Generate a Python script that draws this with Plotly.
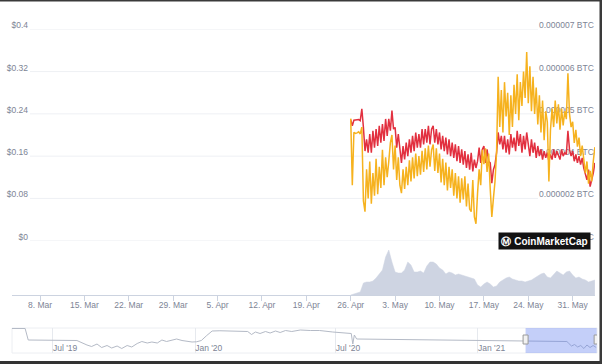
import pandas as pd
import plotly.graph_objects as go

W, H = 602, 364

# ---------------- data ----------------
price_start = "2021-04-26 00:00"
price_step_hours = 6
usd_price = [
    0.231, 0.105, 0.205, 0.203,
    0.204, 0.206, 0.202, 0.215,
    0.075, 0.055, 0.135, 0.080,
    0.150, 0.070, 0.128, 0.085,
    0.155, 0.088, 0.140, 0.100,
    0.172, 0.105, 0.158, 0.120,
    0.150, 0.185, 0.200, 0.135,
    0.180, 0.115, 0.158, 0.105,
    0.090, 0.135, 0.098, 0.140,
    0.105, 0.152, 0.112, 0.158,
    0.118, 0.165, 0.122, 0.160,
    0.125, 0.170, 0.130, 0.175,
    0.135, 0.180, 0.140, 0.172,
    0.182, 0.132, 0.175, 0.128,
    0.165, 0.110, 0.155, 0.105,
    0.148, 0.095, 0.140, 0.100,
    0.135, 0.085, 0.128, 0.080,
    0.122, 0.072, 0.118, 0.078,
    0.122, 0.065, 0.108, 0.060,
    0.055, 0.115, 0.045, 0.032,
    0.090, 0.135, 0.105, 0.172,
    0.145, 0.175, 0.130, 0.165,
    0.098, 0.045, 0.080, 0.112,
    0.168, 0.310, 0.215, 0.285,
    0.205, 0.300, 0.235, 0.280,
    0.200, 0.275, 0.215, 0.295,
    0.240, 0.315, 0.228, 0.300,
    0.255, 0.320, 0.270, 0.357,
    0.260, 0.330, 0.245, 0.310,
    0.240, 0.290, 0.220, 0.275,
    0.205, 0.265, 0.190, 0.245,
    0.225, 0.112, 0.210, 0.250,
    0.215, 0.265, 0.222, 0.258,
    0.210, 0.250, 0.218, 0.245,
    0.230, 0.317, 0.240, 0.215,
    0.225, 0.185, 0.210, 0.178,
    0.195, 0.160, 0.180, 0.150,
    0.128, 0.150, 0.108, 0.132,
    0.112, 0.150, 0.177,
]
# price in BTC, expressed in millionths of a BTC
btc_price_micro = [
    4.58, 4.40, 4.56, 4.57,
    4.56, 4.58, 4.55, 4.90,
    4.35, 3.65, 4.00, 3.60,
    4.15, 3.60, 4.25, 3.75,
    4.30, 3.80, 4.40, 3.90,
    4.45, 3.95, 4.60, 4.10,
    4.60, 4.25, 4.85, 4.30,
    4.35, 3.75, 4.15, 3.65,
    3.30, 3.80, 3.40, 3.90,
    3.50, 4.00, 3.60, 4.10,
    3.65, 4.20, 3.75, 4.15,
    3.75, 4.30, 3.85, 4.30,
    3.90, 4.40, 3.85, 4.30,
    4.40, 3.90, 4.30, 3.85,
    4.20, 3.70, 4.10, 3.65,
    4.05, 3.55, 4.00, 3.50,
    3.90, 3.45, 3.85, 3.35,
    3.80, 3.30, 3.70, 3.25,
    3.65, 3.15, 3.55, 3.10,
    3.60, 3.05, 3.40, 3.15,
    3.35, 3.75, 3.30, 3.70,
    3.80, 3.30, 3.70, 3.35,
    3.30, 2.70, 3.10, 3.25,
    3.60, 4.20, 3.85, 4.10,
    3.70, 4.10, 3.60, 4.00,
    3.55, 4.15, 3.75, 4.05,
    3.65, 4.25, 3.80, 4.15,
    3.60, 4.10, 3.70, 4.20,
    3.85, 3.50, 4.00, 3.60,
    3.90, 3.45, 3.80, 3.50,
    3.70, 3.40, 3.65, 3.45,
    3.60, 3.35, 3.55, 3.40,
    3.70, 3.45, 3.65, 3.50,
    3.40, 3.70, 3.50, 3.60,
    3.55, 4.25, 3.70, 3.50,
    3.65, 3.35, 3.55, 3.30,
    3.50, 3.25, 3.45, 3.15,
    3.00, 2.80, 3.10, 2.60,
    2.80, 3.00, 3.30,
]
volume_start = "2021-04-26 00:00"
volume_step_hours = 12
volume_musd = [
    0, 1, 2, 3, 12, 13, 13, 14, 17, 21,
    25, 38, 45, 33, 23, 22, 22, 25, 33, 30,
    23, 23, 24, 22, 29, 33, 33, 31, 27, 25,
    21, 23, 22, 20, 21, 20, 19, 18, 17, 16,
    10, 8, 11, 13, 11, 8, 9, 13, 15, 17,
    18, 16, 15, 14, 14, 13, 14, 15, 17, 19,
    21, 22, 18, 17, 21, 24, 22, 20, 23, 24,
    20, 17, 18, 16, 15, 13, 14, 15,
]
nav_dates = [
    "2019-05-09", "2019-05-26", "2019-05-30", "2019-06-27", "2019-08-01", "2019-08-14",
    "2019-08-20", "2019-08-27", "2019-09-02", "2019-09-09", "2019-09-15", "2019-09-22",
    "2019-09-28", "2019-10-05", "2019-10-11", "2019-10-18", "2019-10-24", "2019-10-31",
    "2019-11-06", "2019-11-13", "2019-11-19", "2019-11-25", "2019-12-02", "2019-12-08",
    "2019-12-15", "2019-12-21", "2019-12-28", "2020-01-03", "2020-01-09", "2020-01-16",
    "2020-01-23", "2020-02-02", "2020-02-15", "2020-02-28", "2020-03-09", "2020-03-14",
    "2020-03-19", "2020-03-25", "2020-04-01", "2020-04-07", "2020-04-14", "2020-04-20",
    "2020-04-27", "2020-05-05", "2020-05-16", "2020-05-29", "2020-06-10", "2020-06-27",
    "2020-07-13", "2020-07-21", "2020-07-23", "2020-07-25", "2020-07-28", "2021-04-26",
    "2021-04-28", "2021-05-02", "2021-05-06", "2021-05-10", "2021-05-14", "2021-05-18",
    "2021-05-22", "2021-05-26", "2021-05-30", "2021-06-03",
]
nav_price = [
    0.98, 0.98, 0.52, 0.50, 0.50, 0.32,
    0.26, 0.36, 0.22, 0.30, 0.20, 0.28,
    0.18, 0.30, 0.24, 0.38, 0.46, 0.40,
    0.44, 0.40, 0.52, 0.46, 0.50, 0.56,
    0.50, 0.46, 0.44, 0.45, 0.50, 0.70,
    0.88, 0.89, 0.88, 0.89, 0.86, 0.74,
    0.84, 0.78, 0.86, 0.80, 0.88, 0.82,
    0.90, 0.86, 0.92, 0.90, 0.90, 0.84,
    0.80, 0.78, 0.36, 0.72, 0.56, 0.46,
    0.40, 0.28, 0.34, 0.24, 0.30, 0.18,
    0.32, 0.22, 0.30, 0.22,
]

usd_ticks = [0, 0.08, 0.16, 0.24, 0.32, 0.4]
usd_tick_labels = ["$0", "$0.08", "$0.16", "$0.24", "$0.32", "$0.4"]
btc_ticks = [1.0, 2.25, 3.5, 4.75, 6.0, 7.25]
btc_tick_labels = ["0.000001 BTC", "0.000002 BTC", "0.000004 BTC",
                   "0.000005 BTC", "0.000006 BTC", "0.000007 BTC"]

view_start = "2021-03-03 14:00"
view_end = "2021-06-03 12:30"
nav_start = "2019-05-09 00:00"
nav_end = "2021-06-04 00:00"

# ---------------- styling ----------------
ORANGE = "#F6B21E"
RED = "#E2303F"
VOL = "#CED4E2"
TXT = "#7D8495"
FONT = "Liberation Sans"
FS = 8.5


def px(x):
    return x / W


def py(y):
    return 1 - y / H


price_times = pd.date_range(price_start, periods=len(usd_price), freq=f"{price_step_hours}h")
btc_times = pd.date_range(price_start, periods=len(btc_price_micro), freq=f"{price_step_hours}h")
vol_times = pd.date_range(volume_start, periods=len(volume_musd), freq=f"{volume_step_hours}h")

fig = go.Figure()
fig.add_trace(go.Scatter(x=vol_times, y=volume_musd, xaxis="x", yaxis="y3", mode="lines",
                         fill="tozeroy", fillcolor=VOL, line=dict(color=VOL, width=0.5),
                         hoverinfo="skip"))
fig.add_trace(go.Scatter(x=btc_times, y=btc_price_micro, xaxis="x", yaxis="y", mode="lines",
                         line=dict(color=RED, width=1.5), hoverinfo="skip"))
fig.add_trace(go.Scatter(x=price_times, y=usd_price, xaxis="x", yaxis="y2", mode="lines",
                         line=dict(color=ORANGE, width=1.5), hoverinfo="skip"))
fig.add_trace(go.Scatter(x=pd.to_datetime(nav_dates), y=nav_price, xaxis="x2", yaxis="y4",
                         mode="lines", line=dict(color="#B4BAC6", width=1), hoverinfo="skip"))

tickfont = dict(family=FONT, size=FS, color=TXT)

shapes = []
# horizontal grid lines of the price pane
for v in usd_ticks:
    shapes.append(dict(type="line", xref="paper", x0=px(30), x1=px(538), yref="y2", y0=v, y1=v,
                       line=dict(color="#EEF0F4", width=1), layer="below"))
# navigator frame
shapes.append(dict(type="rect", xref="paper", x0=px(12), x1=px(597), yref="paper",
                   y0=py(353), y1=py(328), line=dict(color="#ECEEF2", width=1),
                   fillcolor="rgba(0,0,0,0)", layer="below"))
# navigator selection mask
shapes.append(dict(type="rect", xref="x2", x0=view_start, x1=view_end, yref="paper",
                   y0=py(353), y1=py(328), fillcolor="rgba(100,128,238,0.38)",
                   line=dict(width=0), layer="above"))
for edge in (view_start, view_end):
    shapes.append(dict(type="rect", xref="x2", xsizemode="pixel", xanchor=edge, x0=-2.5, x1=2.5,
                       yref="paper", ysizemode="pixel", yanchor=py(339.5), y0=-4.5, y1=4.5,
                       fillcolor="#F2F2F2", line=dict(color="#9A9A9A", width=1), layer="above"))
# screenshot frame
shapes.append(dict(type="rect", xref="paper", yref="paper", x0=0, x1=1, y0=py(1.6), y1=1,
                   fillcolor="#3A3A3A", line=dict(width=0), layer="above"))
shapes.append(dict(type="rect", xref="paper", yref="paper", x0=0, x1=1, y0=0, y1=py(361),
                   fillcolor="#333333", line=dict(width=0), layer="above"))
shapes.append(dict(type="rect", xref="paper", yref="paper", x0=px(599.5), x1=1, y0=0, y1=1,
                   fillcolor="#3A3A3A", line=dict(width=0), layer="above"))

annotations = [
    dict(xref="paper", yref="paper", x=px(498), y=py(241), xanchor="left", yanchor="middle",
         text="<b>Ⓜ CoinMarketCap</b>", showarrow=False, width=91, height=16, align="center",
         bgcolor="#121212", borderpad=0,
         font=dict(family="Liberation Sans", size=10, color="white")),
]

fig.update_layout(
    width=W, height=H,
    margin=dict(l=0, r=0, t=0, b=0),
    paper_bgcolor="white", plot_bgcolor="white",
    showlegend=False,
    shapes=shapes,
    annotations=annotations,
    xaxis=dict(domain=[px(12), px(595)], anchor="y3", type="date",
               range=[view_start, view_end], tickmode="linear", tick0="2021-03-08",
               dtick=7 * 86400000, tickformat="%-d. %b", ticks="outside", ticklen=5,
               tickcolor="#CCD3E0", showline=True, linecolor="#CCD3E0", linewidth=1,
               showgrid=False, zeroline=False, tickfont=tickfont, ticklabelstandoff=-3,
               automargin=False),
    yaxis=dict(domain=[py(240.7), py(29.3)], range=[btc_ticks[0], btc_ticks[-1]],
               anchor="free", position=px(538), side="right", tickmode="array",
               tickvals=btc_ticks, ticktext=btc_tick_labels, showgrid=False, zeroline=False,
               showline=False, ticks="", ticklabelshift=-4, layer="below traces",
               tickfont=tickfont, automargin=False),
    yaxis2=dict(overlaying="y", range=[usd_ticks[0], usd_ticks[-1]], anchor="free",
                position=px(30), side="left", tickmode="array", tickvals=usd_ticks,
                ticktext=usd_tick_labels, showgrid=False, zeroline=False, showline=False,
                ticks="", ticklabelshift=-4, ticklabelstandoff=2, layer="below traces",
                tickfont=tickfont, automargin=False),
    yaxis3=dict(domain=[py(295), py(245)], range=[0, 50], anchor="x", showgrid=False,
                zeroline=False, showline=False, showticklabels=False, automargin=False),
    xaxis2=dict(domain=[px(12), px(597)], anchor="y4", type="date", range=[nav_start, nav_end],
                tick0="2019-07-01", dtick="M6", tickformat="%b '%y",
                ticklabelposition="inside right", ticklabelstandoff=-6, ticks="",
                showgrid=True, gridcolor="#E6E9EE", showline=False, zeroline=False,
                tickfont=tickfont, automargin=False),
    yaxis4=dict(domain=[py(353), py(328)], range=[0, 1.0], anchor="x2", showgrid=False,
                zeroline=False, showline=False, showticklabels=False, automargin=False),
)

fig.write_html("out.html", config={"displayModeBar": False},
               post_script="document.body.style.margin='0px';document.body.style.overflow='hidden';")
